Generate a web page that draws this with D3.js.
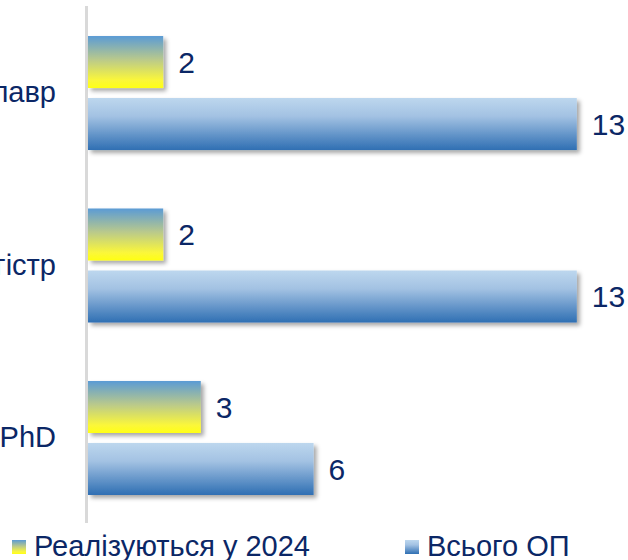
<!DOCTYPE html>
<html><head><meta charset="utf-8">
<script src="https://cdn.jsdelivr.net/npm/d3@7"></script>
<style>body{margin:0;background:#fff}svg{display:block}</style>
</head><body>
<script>
const categories = ["Бакалавр", "Магістр", "PhD"];
const seriesNames = ["Реалізуються у 2024", "Всього ОП"];
const realized2024 = [2, 2, 3];
const totalOP = [13, 13, 6];

const W = 628, H = 560;
const svg = d3.select("body").append("svg").attr("width", W).attr("height", H);
const defs = svg.append("defs");
const gy = defs.append("linearGradient").attr("id","gY").attr("x1",0).attr("y1",0).attr("x2",0).attr("y2",1);
gy.append("stop").attr("offset","0%").attr("stop-color","#5b9bd5");
gy.append("stop").attr("offset","45%").attr("stop-color","#b9c98c");
gy.append("stop").attr("offset","85%").attr("stop-color","#fbf73a");
gy.append("stop").attr("offset","100%").attr("stop-color","#ffff14");
const gb = defs.append("linearGradient").attr("id","gB").attr("x1",0).attr("y1",0).attr("x2",0).attr("y2",1);
gb.append("stop").attr("offset","0%").attr("stop-color","#bdd7ee");
gb.append("stop").attr("offset","35%").attr("stop-color","#a3c2e3");
gb.append("stop").attr("offset","100%").attr("stop-color","#2f6fb3");
const f = defs.append("filter").attr("id","sh").attr("x","-10%").attr("y","-20%").attr("width","130%").attr("height","160%");
f.append("feDropShadow").attr("dx",3).attr("dy",3).attr("stdDeviation",2.2).attr("flood-color","#000").attr("flood-opacity",0.35);

const x = d3.scaleLinear().domain([0, 14]).range([88, 88 + 14 * 37.6]);
const y = d3.scaleBand().domain(categories).range([6, 525]).paddingInner(0.339).paddingOuter(0.174);
const y1 = d3.scaleBand().domain(seriesNames).range([0, y.bandwidth()]).paddingInner(0.161);

const color = "#0b2766";
const font = "Liberation Sans, Arial, sans-serif";

// axis line
svg.append("line").attr("x1",86.5).attr("x2",86.5).attr("y1",6).attr("y2",523)
  .attr("stroke","#d9d9d9").attr("stroke-width",3);

const data = [];
categories.forEach((c,i)=>{
  data.push({c, s: seriesNames[0], v: realized2024[i], fill:"url(#gY)"});
  data.push({c, s: seriesNames[1], v: totalOP[i], fill:"url(#gB)"});
});

svg.append("g").selectAll("rect").data(data).join("rect")
  .attr("x", x(0)).attr("y", d => y(d.c) + y1(d.s))
  .attr("width", d => x(d.v) - x(0)).attr("height", y1.bandwidth())
  .attr("fill", d => d.fill).attr("filter","url(#sh)");

svg.append("g").selectAll("text").data(data).join("text")
  .attr("x", d => x(d.v) + 15).attr("y", d => y(d.c) + y1(d.s) + y1.bandwidth()/2)
  .attr("dy","0.36em").attr("font-family",font).attr("font-size",30).attr("fill",color)
  .text(d => d.v);

svg.append("g").selectAll("text").data(categories).join("text")
  .attr("x", 56).attr("y", d => y(d) + y.bandwidth()/2)
  .attr("dy","0.32em").attr("text-anchor","end").attr("font-family",font).attr("font-size",29).attr("fill",color)
  .text(d => d);

// legend
const legX = [12, 405];
const legFill = ["url(#gY)", "url(#gB)"];
seriesNames.forEach((s,i)=>{
  svg.append("rect").attr("x",legX[i]).attr("y",540).attr("width",14).attr("height",14).attr("fill",legFill[i]);
  svg.append("text").attr("x",legX[i]+22).attr("y",556).attr("font-family",font).attr("font-size",29).attr("fill",color).text(s);
});
</script>
</body></html>
